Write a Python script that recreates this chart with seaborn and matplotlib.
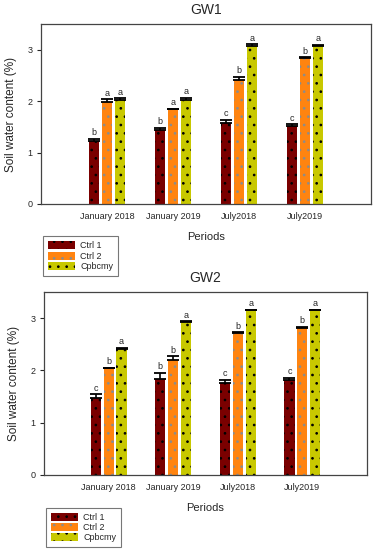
import numpy as np
import pandas as pd
import seaborn as sns
import matplotlib.pyplot as plt

periods = ["January 2018", "January 2019", "July2018", "July2019"]
treatments = ["Ctrl 1", "Ctrl 2", "Cpbcmy"]

# GW1 means, error bars and letters (per treatment, over periods)
gw1_means = {
    "Ctrl 1": [1.23, 1.43, 1.58, 1.51],
    "Ctrl 2": [1.99, 1.84, 2.42, 2.84],
    "Cpbcmy": [2.02, 2.02, 3.07, 3.07],
}
gw1_err = {
    "Ctrl 1": [0.04, 0.05, 0.06, 0.04],
    "Ctrl 2": [0.05, 0.01, 0.05, 0.01],
    "Cpbcmy": [0.04, 0.05, 0.04, 0.03],
}
gw1_letters = {
    "Ctrl 1": ["b", "b", "c", "c"],
    "Ctrl 2": ["a", "a", "b", "b"],
    "Cpbcmy": ["a", "a", "a", "a"],
}

# GW2
gw2_means = {
    "Ctrl 1": [1.48, 1.83, 1.76, 1.81],
    "Ctrl 2": [2.04, 2.20, 2.72, 2.82],
    "Cpbcmy": [2.41, 2.93, 3.15, 3.15],
}
gw2_err = {
    "Ctrl 1": [0.06, 0.12, 0.06, 0.05],
    "Ctrl 2": [0.01, 0.07, 0.01, 0.01],
    "Cpbcmy": [0.02, 0.01, 0.01, 0.01],
}
gw2_letters = {
    "Ctrl 1": ["c", "b", "c", "c"],
    "Ctrl 2": ["b", "b", "b", "b"],
    "Cpbcmy": ["a", "a", "a", "a"],
}

colors = {"Ctrl 1": "#7a0000", "Ctrl 2": "#ff8410", "Cpbcmy": "#c8c800"}
dot_colors = {"Ctrl 1": "black", "Ctrl 2": "#8c8c8c", "Cpbcmy": "black"}

sns.set_style("white")
plt.rcParams["font.family"] = ["Liberation Sans", "DejaVu Sans"]
plt.rcParams["hatch.linewidth"] = 0.7


def to_frame(means):
    rows = []
    for t in treatments:
        for p, v in zip(periods, means[t]):
            rows.append({"Periods": p, "Treatment": t, "value": v})
    return pd.DataFrame(rows)


def draw_panel(ax, means, errs, letters, title):
    df = to_frame(means)
    sns.barplot(data=df, x="Periods", y="value", hue="Treatment",
                order=periods, hue_order=treatments, palette=colors,
                saturation=1, width=0.6, gap=0.22, errorbar=None,
                legend=False, ax=ax)
    for t, cont in zip(treatments, ax.containers):
        for bar, e, lab in zip(cont.patches, errs[t], letters[t]):
            bar.set_hatch("..")
            bar.set_edgecolor(dot_colors[t])
            bar.set_linewidth(0)
            x = bar.get_x() + bar.get_width() / 2
            h = bar.get_height()
            ax.errorbar(x, h, yerr=[[0], [e]], fmt="none", ecolor="black",
                        elinewidth=1.2, capsize=4.2, capthick=1.3)
            ax.text(x, h + e + 0.03, lab, ha="center", va="bottom",
                    fontsize=6.5)
    ax.set_xlim(-1, 4)
    ax.set_ylim(0, 3.5)
    ax.set_yticks([0, 1, 2, 3])
    ax.tick_params(axis="y", length=3, width=0.8, labelsize=6.5, pad=3,
                   left=True)
    ax.tick_params(axis="x", length=0, labelsize=6.5, pad=6)
    ax.set_xlabel("Periods", fontsize=8, labelpad=8)
    ax.set_ylabel("Soil water content (%)", fontsize=8.5, labelpad=8)
    ax.set_title(title, fontsize=10, pad=7)
    for s in ax.spines.values():
        s.set_color("#444444")
        s.set_linewidth(0.9)

    # legend box below axes
    handles = [plt.Rectangle((0, 0), 1, 1, facecolor=colors[t], hatch="..",
                             edgecolor=dot_colors[t], linewidth=0)
               for t in treatments]
    leg = ax.legend(handles, treatments, loc="upper left",
                    bbox_to_anchor=(0.005, -0.18), fontsize=6.5,
                    frameon=True, fancybox=False, handlelength=3.0,
                    handleheight=1.0, borderpad=0.55, labelspacing=0.12,
                    handletextpad=0.6, borderaxespad=0)
    leg.get_frame().set_edgecolor("#555555")
    leg.get_frame().set_linewidth(0.8)


fig = plt.figure(figsize=(3.81, 5.5), dpi=100)
ax1 = fig.add_axes([41 / 381, 1 - 204 / 550, 330 / 381, 180 / 550])
ax2 = fig.add_axes([44 / 381, 1 - 475 / 550, 323 / 381, 183 / 550])

draw_panel(ax1, gw1_means, gw1_err, gw1_letters, "GW1")
draw_panel(ax2, gw2_means, gw2_err, gw2_letters, "GW2")

fig.savefig("out.png", dpi=100)
